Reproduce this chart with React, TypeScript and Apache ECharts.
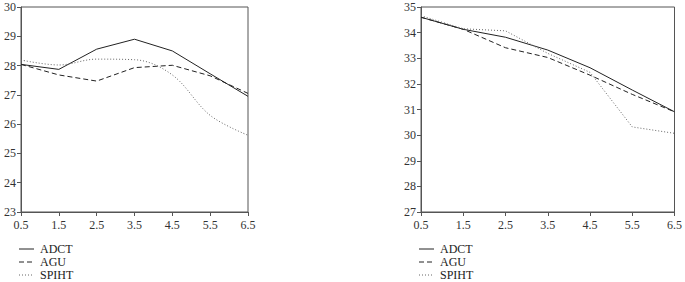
import React, { useEffect, useRef } from "react";
import * as echarts from "echarts";

const xLabels = ["0.5", "1.5", "2.5", "3.5", "4.5", "5.5", "6.5"];
const seriesNames = ["ADCT", "AGU", "SPIHT"];

const leftADCT = [28.04, 27.87, 28.56, 28.9, 28.5, 27.72, 26.95];
const leftAGU = [28.04, 27.68, 27.47, 27.93, 28.01, 27.65, 27.05];
const leftSPIHT = [28.19, 28.02, 28.22, 28.2, 27.68, 26.3, 25.62];

const rightADCT = [34.6, 34.13, 33.82, 33.32, 32.63, 31.76, 30.91];
const rightAGU = [34.6, 34.13, 33.41, 33.03, 32.34, 31.59, 30.91];
const rightSPIHT = [34.66, 34.15, 34.07, 33.19, 32.45, 30.32, 30.07];

const FONT = "'Liberation Serif', 'DejaVu Serif', serif";

export default function App() {
  const ref = useRef<HTMLDivElement>(null);
  useEffect(() => {
    if (!ref.current) return;
    const chart = echarts.init(ref.current, undefined, { renderer: "svg" });
    const axisColor = "#555";
    const xAxisBase = (gridIndex: number) => ({
      type: "category",
      gridIndex,
      data: xLabels,
      boundaryGap: false,
      axisLine: { lineStyle: { color: axisColor, width: 1 } },
      axisTick: { inside: false, length: 4, alignWithLabel: true, lineStyle: { color: axisColor } },
      axisLabel: { color: "#333", fontFamily: FONT, fontSize: 12, margin: 7 },
      splitLine: { show: false },
    });
    const yAxisBase = (gridIndex: number, min: number, max: number) => ({
      type: "value",
      gridIndex,
      min,
      max,
      interval: 1,
      axisLine: { show: true, lineStyle: { color: axisColor, width: 1 } },
      axisTick: { show: true, length: 4, lineStyle: { color: axisColor } },
      axisLabel: { color: "#333", fontFamily: FONT, fontSize: 12, margin: 5 },
      splitLine: { show: false },
    });
    const styles = [
      { type: "solid", color: "#222", width: 1 },
      { type: [5, 3], color: "#222", width: 1 },
      { type: [1, 2], color: "#666", width: 1 },
    ];
    const mk = (name: string, data: number[], idx: number, i: number, smooth: boolean | number) => ({
      type: "line",
      name,
      xAxisIndex: idx,
      yAxisIndex: idx,
      data,
      symbol: "none",
      smooth,
      lineStyle: styles[i],
      itemStyle: { color: styles[i].color },
    });
    const legendGraphic = (x: number) =>
      seriesNames.flatMap((name, i) => {
        const y = 249 + i * 13;
        return [
          {
            type: "line",
            shape: { x1: x, y1: y, x2: x + 15, y2: y },
            style: { stroke: styles[i].color, lineWidth: 1, lineDash: styles[i].type === "solid" ? null : styles[i].type },
          },
          {
            type: "text",
            x: x + 21,
            y,
            style: { text: name, fill: "#222", font: `12px ${FONT}`, textVerticalAlign: "middle", verticalAlign: "middle" },
          },
        ];
      });
    chart.setOption({
      animation: false,
      backgroundColor: "#fff",
      grid: [
        { left: 21, top: 7, width: 227, height: 205, show: true, borderColor: axisColor, borderWidth: 1 },
        { left: 421, top: 7, width: 256, height: 205, show: true, borderColor: axisColor, borderWidth: 1 },
      ],
      xAxis: [xAxisBase(0), xAxisBase(1)],
      yAxis: [yAxisBase(0, 23, 30), yAxisBase(1, 27, 35)],
      graphic: [...legendGraphic(19), ...legendGraphic(419)],
      series: [
        mk("ADCT", leftADCT, 0, 0, false),
        mk("AGU", leftAGU, 0, 1, false),
        mk("SPIHT", leftSPIHT, 0, 2, 0.35),
        mk("ADCT", rightADCT, 1, 0, false),
        mk("AGU", rightAGU, 1, 1, false),
        mk("SPIHT", rightSPIHT, 1, 2, false),
      ],
    });
    return () => chart.dispose();
  }, []);
  return <div ref={ref} style={{ width: 685, height: 282, position: "absolute", left: 0, top: 0 }} />;
}
